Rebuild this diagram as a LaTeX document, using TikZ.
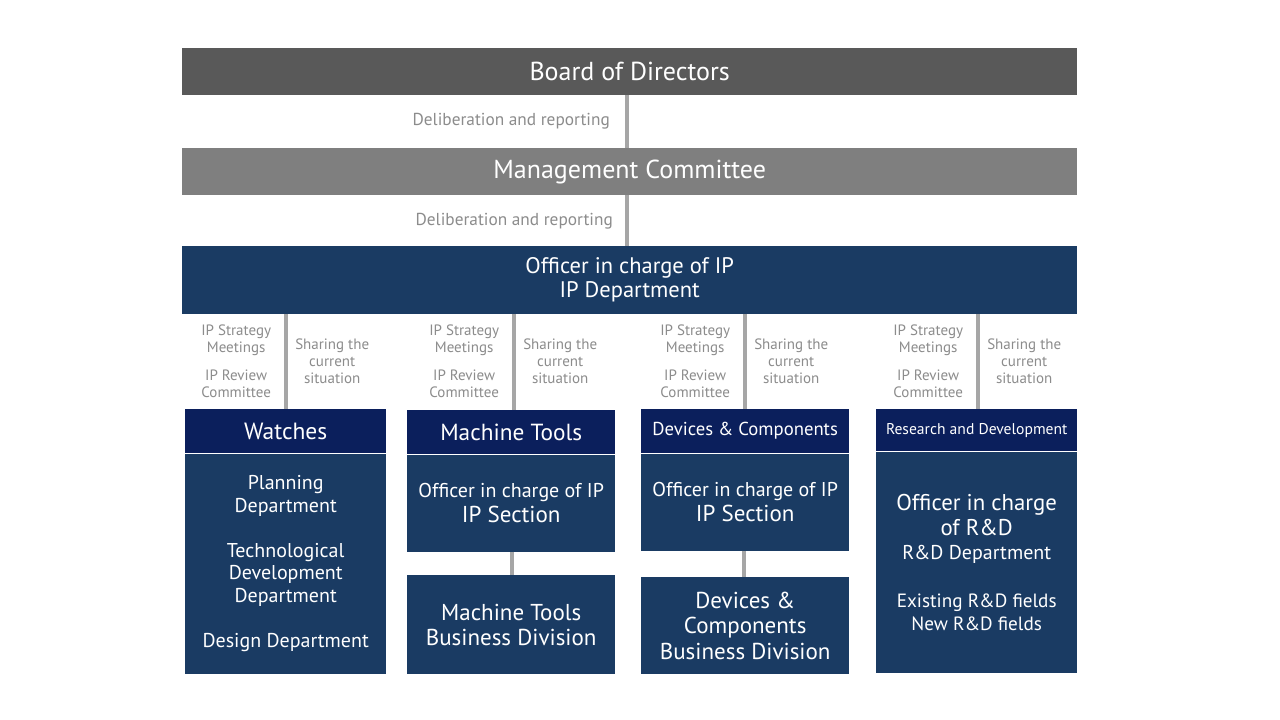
\documentclass[tikz,border=0pt]{standalone}
\usepackage{fontspec}
\setmainfont{PT Sans}
\usepackage{tikz}
\usetikzlibrary{positioning,calc}
\definecolor{cboard}{HTML}{595959}
\definecolor{cmgmt}{HTML}{7F7F7F}
\definecolor{cblue}{HTML}{1A3B63}
\definecolor{cnavy}{HTML}{0B1F5C}
\definecolor{cline}{HTML}{A6A6A6}
\definecolor{cnote}{HTML}{8C8C8C}
\newcommand{\fs}[2]{\fontsize{#1}{#2}\selectfont}

\begin{document}
\begin{tikzpicture}[x=1pt,y=-1pt,
  every node/.style={align=center,text=white,inner sep=0pt},
  bar/.style={anchor=north west,minimum width=895pt,minimum height=47pt},
  hdbox/.style={fill=cnavy,anchor=north west,minimum height=44pt},
  bodybox/.style={fill=cblue,anchor=north west},
  conn/.style={draw=cline,line width=4pt},
  note/.style={text=cnote,font=\fontsize{15}{17}\selectfont}]
  \path[use as bounding box,fill=white] (0,0) rectangle (1280,720);

  % top of the chart
  \node[bar,fill=cboard,font=\fs{26}{30}] (board) at (182,48) {Board of Directors};
  \node[bar,fill=cmgmt,font=\fs{26}{30}] (mgmt) at (182,148) {Management Committee};
  \node[bar,fill=cblue,minimum height=68pt,font=\fs{22.5}{24}] (ipdept) at (182,246)
    {Officer in charge of IP\\IP Department};
  \draw[conn] ([xshift=-2.5pt]board.south) -- ([xshift=-2.5pt]mgmt.north);
  \draw[conn] ([xshift=-2.5pt]mgmt.south) -- ([xshift=-2.5pt]ipdept.north);
  \node[note,anchor=east,font=\fs{17.3}{20}] (delib1) at (610,121) {Deliberation and reporting};
  \node[note,anchor=east,font=\fs{17.3}{20}] (delib2) at (613,221) {Deliberation and reporting};

  % Watches
  \node[hdbox,minimum width=201pt,font=\fs{23.5}{26}] (wathd) at (185,409) {Watches};
  \node[bodybox,minimum width=201pt,minimum height=220pt,below=0pt of wathd,
        font=\fs{20}{22.5}] (watbody)
    {Planning\\Department\\[22.5pt]Technological\\Development\\Department\\[22.5pt]Design Department};

  % Machine Tools
  \node[hdbox,minimum width=208pt,font=\fs{23.3}{26}] (mthd) at (407,410) {Machine Tools};
  \node[bodybox,minimum width=208pt,minimum height=97pt,below=0pt of mthd] (mtbody)
    {\fs{20}{22}Officer in charge of IP\\[3pt]\fs{23}{22}IP Section};
  \node[bodybox,minimum width=208pt,minimum height=99pt,below=23pt of mtbody,
        font=\fs{23}{25}] (mtdiv) {Machine Tools\\Business Division};
  \draw[conn] ([xshift=1pt]mtbody.south) -- ([xshift=1pt]mtdiv.north);

  % Devices & Components
  \node[hdbox,minimum width=208pt,font=\fs{18.7}{22}] (devhd) at (641,409) {Devices \& Components};
  \node[bodybox,minimum width=208pt,minimum height=97pt,below=0pt of devhd] (devbody)
    {\fs{20}{22}Officer in charge of IP\\[3pt]\fs{23}{22}IP Section};
  \node[bodybox,minimum width=208pt,minimum height=97pt,below=26pt of devbody,
        font=\fs{23}{25.5}] (devdiv) {Devices \&\\Components\\Business Division};
  \draw[conn] ([xshift=-1pt]devbody.south) -- ([xshift=-1pt]devdiv.north);

  % Research and Development
  \node[hdbox,minimum width=201pt,minimum height=42pt,font=\fs{15.6}{18}] (rdhd) at (876,409)
    {Research and Development};
  \node[bodybox,minimum width=201pt,minimum height=221pt,below=0pt of rdhd,
        font=\fs{20}{24}] (rdbody)
    {\fs{22.8}{25}Officer in charge\\[1pt]\fs{22.8}{25}of R\&D\\R\&D Department\\[24pt]
     \fs{19.2}{24}Existing R\&D fields\\[-1pt]\fs{19.2}{23}New R\&D fields};

  % links from the IP Department to the columns
  \foreach \c/\dx in {wat/0.5,mt/3,dev/0,rd/1.5}{
    \coordinate (\c top) at ([xshift=\dx pt]\c hd.north |- ipdept.south);
    \draw[conn] (\c top) -- ([xshift=\dx pt]\c hd.north);
    \node[note] (\c strat) at ($(\c top)+(-50,47)$)
      {IP Strategy\\Meetings\\[11pt]IP Review\\Committee};
    \node[note] (\c share) at ($(\c top)+(46,47)$) {Sharing the\\current\\situation};
  }
\end{tikzpicture}
\end{document}
